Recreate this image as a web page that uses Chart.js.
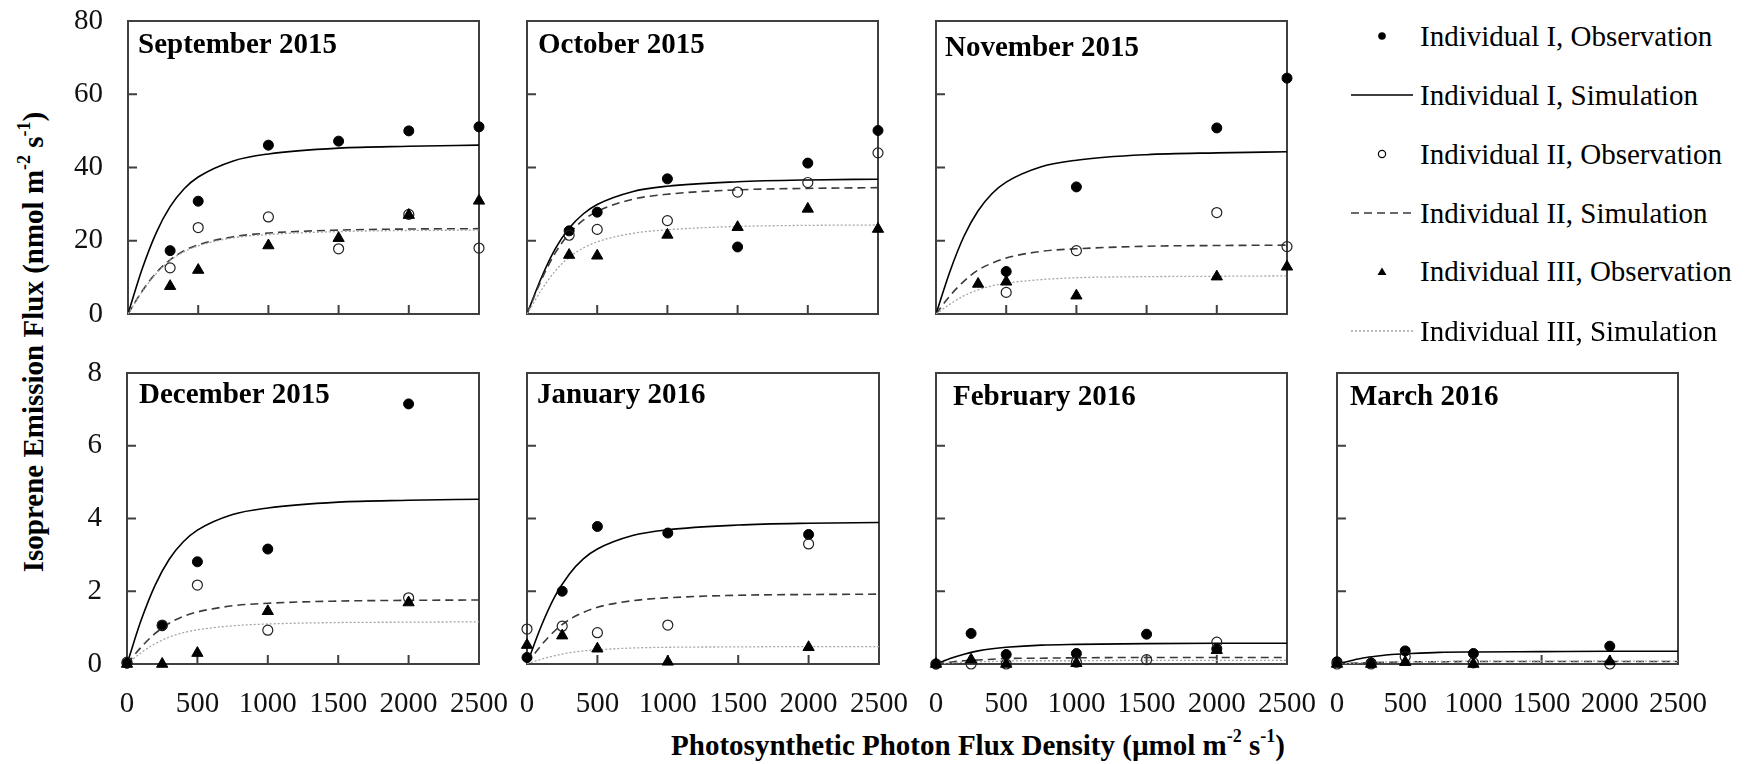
<!DOCTYPE html>
<html>
<head>
<meta charset="utf-8">
<title>Isoprene emission flux vs PPFD</title>
<script src="https://cdn.jsdelivr.net/npm/chart.js@4.4.0/dist/chart.umd.min.js"></script>
<style>
  html, body { margin: 0; padding: 0; background: #fff; }
  body { width: 1753px; height: 764px; position: relative; overflow: hidden;
         font-family: "Liberation Serif", "Times New Roman", serif; color: #000; }
  .axis-title { position: absolute; font-weight: bold; font-size: 29px; white-space: nowrap;
                text-align: center; height: 40px; line-height: 40px; }
  .axis-title sup { font-size: 0.62em; line-height: 0; vertical-align: 0.7em; }
  .legend-row { position: absolute; height: 40px; display: flex; align-items: center;
                white-space: nowrap; font-size: 29px; font-family: "Liberation Serif", serif; }
</style>
</head>
<body>
<div id="yTitle" class="axis-title">Isoprene Emission Flux (nmol m<sup>-2</sup> s<sup>-1</sup>)</div>
<div id="xTitle" class="axis-title">Photosynthetic Photon Flux Density (µmol m<sup>-2</sup> s<sup>-1</sup>)</div>
<script>
// ---- values ----
const months = ['September 2015', 'October 2015', 'November 2015',
                'December 2015', 'January 2016', 'February 2016', 'March 2016'];
const seriesNames = ['Individual I, Observation', 'Individual I, Simulation',
                     'Individual II, Observation', 'Individual II, Simulation',
                     'Individual III, Observation', 'Individual III, Simulation'];

const xTicks = [0, 500, 1000, 1500, 2000, 2500];
const yTicksUpper = [0, 20, 40, 60, 80];
const yTicksLower = [0, 2, 4, 6, 8];

// PPFD levels of the measurements, one list per month
const obsPPFD = [
  [300, 500, 1000, 1500, 2000, 2500],
  [300, 500, 1000, 1500, 2000, 2500],
  [300, 500, 1000, 2000, 2500],
  [0, 250, 500, 1000, 2000],
  [0, 250, 500, 1000, 2000],
  [0, 250, 500, 1000, 1500, 2000],
  [0, 250, 500, 1000, 2000]
];
const obsIndI = [
  [17.3, 30.8, 46.1, 47.2, 50.0, 51.1],
  [22.7, 27.8, 36.9, 18.3, 41.2, 50.1],
  [null, 11.6, 34.7, 50.8, 64.4],
  [0.02, 1.05, 2.81, 3.16, 7.15],
  [0.18, 2.0, 3.78, 3.60, 3.56],
  [0.0, 0.84, 0.26, 0.29, 0.82, 0.42],
  [0.06, 0.03, 0.36, 0.29, 0.49]
];
const obsIndII = [
  [12.6, 23.6, 26.5, 17.8, 27.2, 18.0],
  [21.5, 23.1, 25.5, 33.3, 35.9, 44.0],
  [null, 5.9, 17.3, 27.7, 18.4],
  [0.05, 1.07, 2.17, 0.93, 1.82],
  [0.96, 1.04, 0.86, 1.07, 3.30],
  [0.0, 0.0, 0.0, 0.05, 0.12, 0.60],
  [0.0, 0.0, 0.2, 0.03, 0.0]
];
const obsIndIII = [
  [7.6, 12.0, 18.7, 20.7, 27.0, 30.9],
  [16.1, 15.9, 21.6, 23.7, 28.7, 23.2],
  [8.2, 8.8, 5.0, 10.2, 12.9],
  [0.0, 0.0, 0.30, 1.45, 1.69],
  [0.52, 0.78, 0.42, 0.06, 0.46],
  [0.0, 0.12, 0.0, 0.02, null, 0.38],
  [0.0, 0.0, 0.05, 0.0, 0.07]
];

// simulated curves, read at these PPFD levels
const simPPFD = [0, 100, 200, 300, 400, 500, 750, 1000, 1500, 2000, 2500];
const simIndI = [
  [0, 12.2, 22.1, 29.3, 34.2, 37.4, 41.8, 43.7, 45.3, 45.8, 46.1],
  [0, 9.7, 17.7, 23.4, 27.3, 29.9, 33.4, 34.9, 36.1, 36.6, 36.8],
  [0, 11.7, 21.3, 28.2, 32.9, 36.0, 40.2, 42.0, 43.5, 44.0, 44.3],
  [0, 1.20, 2.17, 2.88, 3.36, 3.68, 4.11, 4.29, 4.45, 4.50, 4.53],
  [0, 1.03, 1.87, 2.47, 2.89, 3.16, 3.53, 3.69, 3.82, 3.87, 3.89],
  [0, 0.15, 0.27, 0.36, 0.42, 0.46, 0.52, 0.54, 0.56, 0.57, 0.57],
  [0, 0.09, 0.17, 0.22, 0.26, 0.28, 0.32, 0.33, 0.34, 0.35, 0.35]
];
const simIndII = [
  [0, 6.2, 11.2, 14.8, 17.3, 18.9, 21.1, 22.1, 22.9, 23.2, 23.3],
  [0, 9.1, 16.6, 21.9, 25.6, 28.0, 31.3, 32.7, 33.9, 34.3, 34.5],
  [0, 5.0, 9.0, 12.0, 13.9, 15.3, 17.1, 17.8, 18.5, 18.7, 18.8],
  [0, 0.46, 0.84, 1.12, 1.31, 1.43, 1.60, 1.67, 1.73, 1.75, 1.76],
  [0, 0.51, 0.92, 1.22, 1.42, 1.56, 1.74, 1.82, 1.89, 1.91, 1.92],
  [0, 0.05, 0.09, 0.11, 0.13, 0.15, 0.16, 0.17, 0.18, 0.18, 0.18],
  [0, 0.02, 0.03, 0.04, 0.05, 0.06, 0.06, 0.07, 0.07, 0.07, 0.07]
];
const simIndIII = [
  [0, 6.0, 11.0, 14.6, 17.0, 18.6, 20.8, 21.7, 22.5, 22.8, 22.9],
  [0, 6.4, 11.7, 15.5, 18.0, 19.7, 22.0, 23.0, 23.9, 24.2, 24.3],
  [0, 2.7, 5.0, 6.6, 7.7, 8.4, 9.4, 9.9, 10.2, 10.3, 10.4],
  [0, 0.31, 0.56, 0.74, 0.86, 0.94, 1.05, 1.10, 1.14, 1.15, 1.16],
  [0, 0.13, 0.23, 0.31, 0.36, 0.39, 0.44, 0.46, 0.47, 0.48, 0.48],
  [0, 0.03, 0.05, 0.06, 0.07, 0.08, 0.09, 0.09, 0.10, 0.10, 0.10],
  [0, 0.02, 0.04, 0.05, 0.06, 0.06, 0.07, 0.08, 0.08, 0.08, 0.08]
];

// ---- layout (page pixels) ----
const frames = [
  { l: 128, t: 21, r: 479, b: 314 },
  { l: 527, t: 21, r: 878, b: 314 },
  { l: 936, t: 21, r: 1287, b: 314 },
  { l: 127, t: 373, r: 479, b: 664 },
  { l: 527, t: 373, r: 879, b: 664 },
  { l: 936, t: 373, r: 1287, b: 664 },
  { l: 1337, t: 373, r: 1678, b: 664 }
];
const titlePos = [[10, 32], [11, 32], [9, 35], [12, 30], [10, 30], [17, 32], [13, 32]];

const serif = '"Liberation Serif", "Times New Roman", serif';
const frameColor = '#404040';

// one style per series, same order as seriesNames
const styles = [
  { obs: true, pointStyle: 'circle', radius: 5, fill: '#000', stroke: '#000', bw: 1 },
  { obs: false, color: '#000', width: 1.6, dash: [] },
  { obs: true, pointStyle: 'circle', radius: 5, fill: 'rgba(255,255,255,0)', stroke: '#222', bw: 1.2 },
  { obs: false, color: '#3a3a3a', width: 1.6, dash: [8, 5] },
  { obs: true, pointStyle: 'triangle', radius: 6.5, fill: '#000', stroke: '#000', bw: 1 },
  { obs: false, color: '#a5a5a5', width: 1.3, dash: [2, 2] }
];

function toPoints(xs, ys) {
  const out = [];
  xs.forEach((x, k) => { if (ys[k] != null) out.push({ x: x, y: ys[k] }); });
  return out;
}

// frame, inward tick marks and panel title
const panelDecor = {
  id: 'panelDecor',
  beforeDatasetsDraw(chart) {
    const { ctx, chartArea: a, scales } = chart;
    ctx.save();
    ctx.strokeStyle = frameColor;
    ctx.lineWidth = 2;
    ctx.strokeRect(a.left, a.top, a.right - a.left, a.bottom - a.top);
    ctx.beginPath();
    scales.x.ticks.forEach(t => {
      if (t.value <= scales.x.min || t.value >= scales.x.max) return;
      const px = scales.x.getPixelForValue(t.value);
      ctx.moveTo(px, a.bottom);
      ctx.lineTo(px, a.bottom - 9);
    });
    scales.y.ticks.forEach(t => {
      if (t.value <= scales.y.min || t.value >= scales.y.max) return;
      const py = scales.y.getPixelForValue(t.value);
      ctx.moveTo(a.left, py);
      ctx.lineTo(a.left + 9, py);
    });
    ctx.stroke();
    ctx.restore();
  },
  afterDraw(chart, args, opts) {
    const { ctx, chartArea: a } = chart;
    ctx.save();
    ctx.font = 'bold 29px ' + serif;
    ctx.fillStyle = '#000';
    ctx.textBaseline = 'alphabetic';
    ctx.textAlign = 'left';
    ctx.fillText(opts.title, a.left + opts.dx, a.top + opts.dy);
    ctx.restore();
  }
};

frames.forEach((f, i) => {
  const lower = i >= 3;
  const leftCol = i === 0 || i === 3;
  const padL = leftCol ? 60 : 16, padR = 36, padT = 16, padB = lower ? 56 : 14;
  const w = f.r - f.l + padL + padR, h = f.b - f.t + padT + padB;

  const cv = document.createElement('canvas');
  cv.width = w; cv.height = h;
  cv.style.cssText = 'position:absolute;left:' + (f.l - padL) + 'px;top:' + (f.t - padT) +
                     'px;width:' + w + 'px;height:' + h + 'px';
  document.body.appendChild(cv);

  const series = [obsIndI[i], simIndI[i], obsIndII[i], simIndII[i], obsIndIII[i], simIndIII[i]];
  const datasets = series.map((ys, k) => {
    const s = styles[k];
    if (s.obs) {
      return {
        label: seriesNames[k], data: toPoints(obsPPFD[i], ys), clip: false,
        pointStyle: s.pointStyle, pointRadius: s.radius, pointBackgroundColor: s.fill,
        pointBorderColor: s.stroke, pointBorderWidth: s.bw, order: 6 - k
      };
    }
    return {
      label: seriesNames[k], data: toPoints(simPPFD, ys), showLine: true, pointRadius: 0,
      borderColor: s.color, borderWidth: s.width, borderDash: s.dash,
      cubicInterpolationMode: 'monotone', fill: false, order: 20 - k
    };
  });

  const yTicks = lower ? yTicksLower : yTicksUpper;
  new Chart(cv, {
    type: 'scatter',
    data: { datasets: datasets },
    options: {
      responsive: false,
      animation: false,
      events: [],
      layout: { padding: { left: 0, right: padR, top: padT, bottom: 0 } },
      plugins: {
        legend: { display: false },
        tooltip: { enabled: false },
        panelDecor: { title: months[i], dx: titlePos[i][0], dy: titlePos[i][1] }
      },
      scales: {
        x: {
          type: 'linear', min: 0, max: 2500,
          afterBuildTicks: s => { s.ticks = xTicks.map(v => ({ value: v })); },
          afterFit: s => { s.height = padB; s.paddingLeft = 0; s.paddingRight = 0; },
          grid: { display: false, drawTicks: false },
          border: { display: false },
          ticks: { display: lower, padding: 23, autoSkip: false, maxRotation: 0,
                   callback: v => String(v),
                   color: '#111', font: { family: serif, size: 29 } }
        },
        y: {
          type: 'linear', min: 0, max: yTicks[yTicks.length - 1],
          afterBuildTicks: s => { s.ticks = yTicks.map(v => ({ value: v })); },
          afterFit: s => { s.width = padL; s.paddingTop = 0; s.paddingBottom = 0; },
          grid: { display: false, drawTicks: false },
          border: { display: false },
          ticks: { display: leftCol, padding: 25, autoSkip: false,
                   callback: v => String(v),
                   color: '#111', font: { family: serif, size: 29 } }
        }
      }
    },
    plugins: [panelDecor]
  });
});

// ---- legend (top right) ----
const legendRowY = [36, 95, 154, 213, 271, 331];
styles.forEach((s, k) => {
  const row = document.createElement('div');
  row.className = 'legend-row';
  row.style.left = '1348px';
  row.style.top = (legendRowY[k] - 20) + 'px';
  let mark;
  if (!s.obs) {
    mark = '<line x1="3" x2="65" y1="20" y2="20" stroke="' + s.color + '" stroke-width="' + s.width +
           '" stroke-dasharray="' + (s.dash.length ? s.dash.join(' ') : 'none') + '"/>';
  } else if (s.pointStyle === 'triangle') {
    mark = '<polygon points="29.5,24 38.5,24 34,16.5" fill="#000"/>';
  } else {
    mark = '<circle cx="34" cy="20" r="3.6" fill="' + (k === 0 ? '#000' : 'none') +
           '" stroke="#000" stroke-width="' + (k === 0 ? 0.5 : 1.2) + '"/>';
  }
  row.innerHTML = '<svg width="72" height="40" viewBox="0 0 72 40">' + mark + '</svg>' +
                  '<span>' + seriesNames[k] + '</span>';
  document.body.appendChild(row);
});

// ---- shared axis titles ----
const yTitle = document.getElementById('yTitle');
yTitle.style.width = '600px';
yTitle.style.left = (33 - 300) + 'px';
yTitle.style.top = (342 - 20) + 'px';
yTitle.style.transform = 'rotate(-90deg)';

const xTitle = document.getElementById('xTitle');
xTitle.style.width = '1000px';
xTitle.style.left = (978 - 500) + 'px';
xTitle.style.top = (745 - 20) + 'px';
</script>
</body>
</html>
